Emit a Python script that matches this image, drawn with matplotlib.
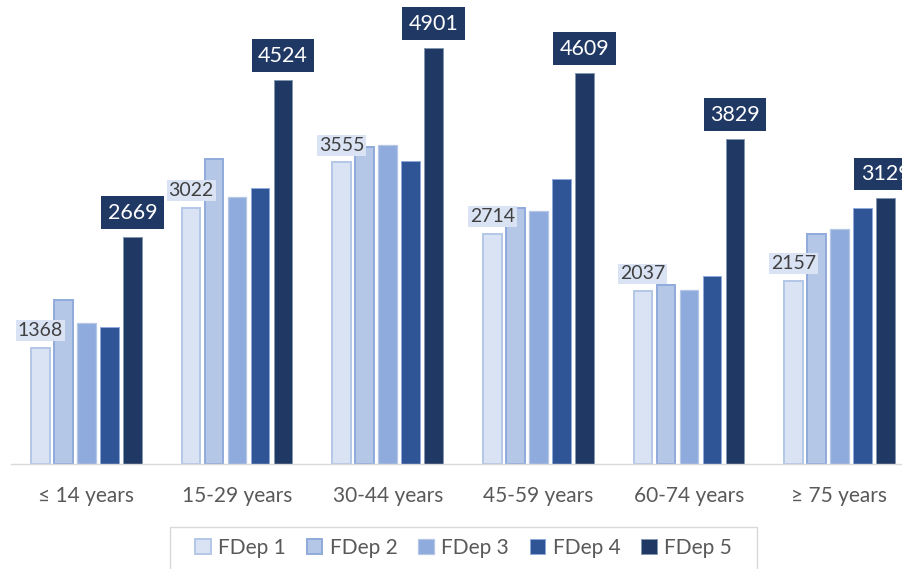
import matplotlib
matplotlib.use("Agg")
import matplotlib.pyplot as plt
from matplotlib.patches import Rectangle, Patch
import numpy as np

plt.rcParams['font.family'] = ['Lato', 'DejaVu Sans']

categories = ['≤ 14 years', '15-29 years', '30-44 years', '45-59 years', '60-74 years', '≥ 75 years']
series_names = ['FDep 1', 'FDep 2', 'FDep 3', 'FDep 4', 'FDep 5']
fdep1 = [1368, 3022, 3555, 2714, 2037, 2157]
fdep2 = [1930, 3600, 3740, 3020, 2105, 2710]
fdep3 = [1660, 3150, 3765, 2985, 2045, 2770]
fdep4 = [1615, 3255, 3570, 3360, 2210, 3020]
fdep5 = [2669, 4524, 4901, 4609, 3829, 3129]
series = [fdep1, fdep2, fdep3, fdep4, fdep5]

fills = ['#DAE3F3', '#B4C7E7', '#8FAADC', '#2F5597', '#203864']
edges = ['#B4C7E7', '#8FAADC', '#B4C7E7', '#8FAADC', '#8497B0']
edge_w = [1.4, 1.4, 0.9, 0.7, 0.7]

W, H = 903, 569
fig = plt.figure(figsize=(W / 100, H / 100), dpi=100)
ax = fig.add_axes([11.2 / W, (H - 463.5) / H, 903.6 / W, 463.5 / H])

x = np.arange(len(categories))
pitch = 0.1527
width = 0.124
for i, (vals, fc, ec, lw) in enumerate(zip(series, fills, edges, edge_w)):
    ax.bar(x + (i - 2) * pitch, vals, width, color=fc, edgecolor=ec,
           linewidth=lw, label=series_names[i], zorder=2)

# value labels for the lowest and highest deprivation quintiles
for xi, v in zip(x, fdep1):
    ax.annotate(f'{v}', (xi - 2 * pitch, v), xytext=(0, 8.5), textcoords='offset pixels',
                ha='center', va='bottom', fontsize=14, color='#404040',
                bbox=dict(boxstyle='square,pad=0.1', fc='#DAE3F3', ec='none'),
                annotation_clip=False, zorder=5)
for xi, v in zip(x, fdep5):
    ax.annotate(f'{v}', (xi + 2 * pitch, v), xytext=(0, 14.5), textcoords='offset pixels',
                ha='center', va='bottom', fontsize=15.5, color='white',
                bbox=dict(boxstyle='square,pad=0.3', fc='#203864', ec='none'),
                annotation_clip=False, zorder=5)

ax.set_xlim(-0.5, len(categories) - 0.5)
ax.set_ylim(0, 5472)
ax.set_xticks(x)
ax.set_xticklabels(categories, fontsize=15, color='#595959')
ax.tick_params(axis='x', length=0, pad=16)
ax.set_yticks([])
for s in ['top', 'right', 'left']:
    ax.spines[s].set_visible(False)
ax.spines['bottom'].set_color('#D9D9D9')
ax.spines['bottom'].set_linewidth(1.0)
ax.patch.set_visible(False)

# legend with a custom frame
handles = [Patch(facecolor=fc, edgecolor=ec, linewidth=lw) for fc, ec, lw in zip(fills, edges, edge_w)]
fig.legend(handles, series_names, loc='center', bbox_to_anchor=(463.5 / W, 1 - 548 / H),
           ncol=5, frameon=False, fontsize=15, handlelength=0.75, handleheight=0.75,
           handletextpad=0.35, columnspacing=1.0, borderpad=0, labelcolor='#595959')
fig.patches.append(Rectangle((170 / W, -0.02), (757 - 170) / W, (1 - 527 / H) + 0.02,
                             transform=fig.transFigure, fc='none', ec='#D9D9D9', lw=1.0))

fig.savefig('out.png', dpi=100)
